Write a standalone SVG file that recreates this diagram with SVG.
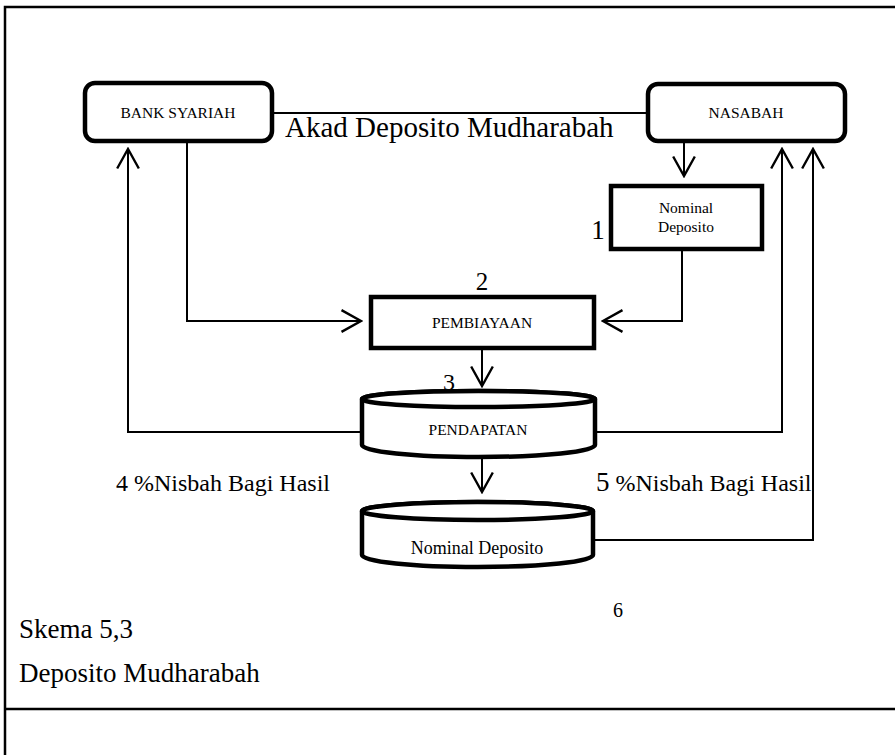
<svg xmlns="http://www.w3.org/2000/svg" width="895" height="755" viewBox="0 0 895 755" font-family="'Liberation Serif', 'DejaVu Serif', 'Times New Roman', serif">
<defs>
<marker id="arr" markerUnits="userSpaceOnUse" markerWidth="24" markerHeight="26" viewBox="-20 -12 22 24" refX="0" refY="0" orient="auto">
<path d="M-18,-10 L0,0 L-18,10" fill="none" stroke="#000" stroke-width="2.2"/>
</marker>
</defs>
<style>
text{font-family:'Liberation Serif','DejaVu Serif','Times New Roman',serif;fill:#000}
.frame{fill:none;stroke:#000;stroke-width:2.5}
.node{fill:#fff;stroke:#000;stroke-width:4.5}
.conn{fill:none;stroke:#000;stroke-width:2}
.lbl{font-size:15.5px;text-anchor:middle}
.num{font-size:25px;text-anchor:middle}
.big{font-size:24px}
.cap{font-size:27px}
</style>
<rect width="895" height="755" fill="#fff"/>
<g id="frame">
<path class="frame" d="M5,755 L5,7 L895,7"/>
<path class="frame" d="M5,709 L895,709"/>
</g>
<g id="connectors">
<path class="conn" d="M272,113 L648,113"/>
<path class="conn" d="M684,142 L684,176" marker-end="url(#arr)"/>
<path class="conn" d="M682,249 L682,321 L603,321" marker-end="url(#arr)"/>
<path class="conn" d="M187,142 L187,321 L361,321" marker-end="url(#arr)"/>
<path class="conn" d="M482,348 L482,386" marker-end="url(#arr)"/>
<path class="conn" d="M362,432 L128,432 L128,149" marker-end="url(#arr)"/>
<path class="conn" d="M595,432 L782,432 L782,149" marker-end="url(#arr)"/>
<path class="conn" d="M482,459 L482,492" marker-end="url(#arr)"/>
<path class="conn" d="M593,540 L813,540 L813,149" marker-end="url(#arr)"/>
</g>
<g id="bank">
<rect class="node" x="85" y="83" width="187" height="58" rx="10"/>
<text class="lbl" x="178" y="118">BANK SYARIAH</text>
</g>
<g id="nasabah">
<rect class="node" x="648" y="84" width="197" height="57" rx="10"/>
<text class="lbl" x="746" y="118">NASABAH</text>
</g>
<text x="285" y="137" style="font-size:29px">Akad Deposito Mudharabah</text>
<g id="nominal-box">
<rect class="node" x="611" y="186" width="151" height="63"/>
<text class="lbl" x="686" y="213">Nominal</text>
<text class="lbl" x="686" y="232">Deposito</text>
<text class="num" x="598" y="239" style="font-size:27px">1</text>
</g>
<g id="pembiayaan">
<rect class="node" x="371" y="297" width="223" height="51"/>
<text class="lbl" x="482" y="328">PEMBIAYAAN</text>
<text class="num" x="482" y="290">2</text>
</g>
<g id="pendapatan">
<path class="node" d="M362,399 L362,445 A116.5,12 0 0 0 595,445 L595,399 A116.5,8 0 0 0 362,399 Z"/>
<ellipse class="node" cx="478.5" cy="399" rx="116.5" ry="8" fill="none"/>
<text class="lbl" x="478" y="435">PENDAPATAN</text>
<text class="num" x="449" y="390" style="font-size:24px">3</text>
</g>
<text class="big" x="116" y="491">4 %Nisbah Bagi Hasil</text>
<text x="596" y="491"><tspan style="font-size:27px">5</tspan><tspan class="big"> %Nisbah Bagi Hasil</tspan></text>
<g id="nominal-cyl">
<path class="node" d="M362,511 L362,555 A115.5,12 0 0 0 593,555 L593,511 A115.5,9 0 0 0 362,511 Z"/>
<ellipse class="node" cx="477.5" cy="511" rx="115.5" ry="9" fill="none"/>
<text x="477" y="554" style="font-size:18px;text-anchor:middle">Nominal Deposito</text>
</g>
<text x="618" y="617" style="font-size:20px;text-anchor:middle">6</text>
<text class="cap" x="19" y="638">Skema 5,3</text>
<text class="cap" x="19" y="682">Deposito Mudharabah</text>
</svg>
